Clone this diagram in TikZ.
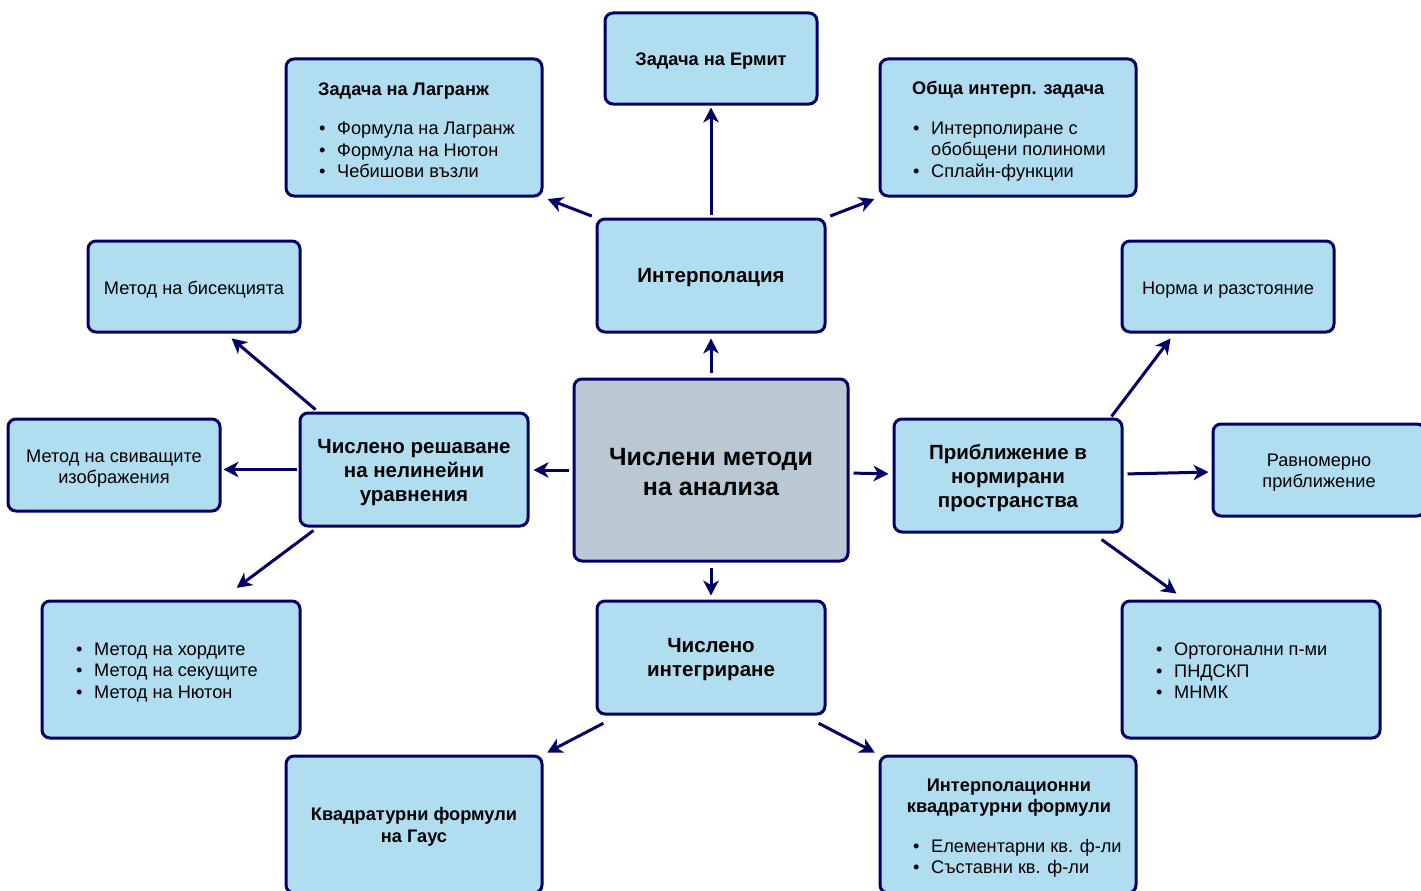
\documentclass[tikz,border=0pt]{standalone}
\usepackage{fontspec}
\setmainfont{Liberation Sans}
\usetikzlibrary{arrows.meta}
\definecolor{navy}{HTML}{000066}
\definecolor{boxfill}{HTML}{B1DDF0}
\definecolor{cenfill}{HTML}{BAC8D3}
\tikzset{
 box/.style={draw=navy, line width=3pt, fill=boxfill, rounded corners=8pt, inner sep=0pt},
 lbl/.style={inner sep=0pt, align=center, text=black},
 reg/.style={font=\fontsize{18.2}{21.5}\selectfont},
 bbold/.style={font=\fontsize{20.5}{24}\selectfont\bfseries},
 sbold/.style={font=\fontsize{18.2}{21.6}\selectfont\bfseries},
 cbold/.style={font=\fontsize{25}{30.5}\selectfont\bfseries},
 conn/.style={draw=navy, line width=3pt, -{Stealth[length=15pt,width=15.5pt,inset=4.5pt]}},
 listtxt/.style={inner sep=0pt, align=left, anchor=west, text=black, font=\fontsize{18.2}{21.5}\selectfont},
}
\newcommand\bul{\hspace*{1pt}\makebox[18pt][l]{\textbullet}}
\begin{document}
\begin{tikzpicture}[x=1pt,y=-1pt]
\clip (0,0) rectangle (1421,891);
\fill[white] (0,0) rectangle (1421,891);
% boxes
\node[box, minimum width=212pt, minimum height=91pt] (erm) at (711,58.5) {};
\node[lbl, sbold] (ermT) at (711,61.5) {Задача на Ермит};
\node[box, minimum width=256pt, minimum height=137pt] (lag) at (414,127.5) {};
\node[listtxt] (lagtxt) at (318,130) {{\bfseries Задача на Лагранж}\\[18pt]\bul Формула на Лагранж\\\bul Формула на Нютон\\\bul Чебишови възли};
\node[box, minimum width=256pt, minimum height=137pt] (obs) at (1008,127.5) {};
\node[listtxt] (obstxt) at (912,131) {{\bfseries Обща интерп. задача}\\[18pt]\bul Интерполиране с\\\hspace*{19pt}обобщени полиноми\\\bul Сплайн-функции};
\node[box, minimum width=228pt, minimum height=113pt] (intp) at (711,275.5) {};
\node[lbl, bbold] (intpT) at (711,278) {Интерполация};
\node[box, minimum width=212pt, minimum height=91pt] (bis) at (194,286.5) {};
\node[lbl, reg] (bisT) at (194,290) {Метод на бисекцията};
\node[box, minimum width=212pt, minimum height=91pt] (norm) at (1228,286.5) {};
\node[lbl, reg] (normT) at (1228,290) {Норма и разстояние};
\node[box, fill=cenfill, minimum width=274pt, minimum height=182pt] (cen) at (711,470) {};
\node[lbl, cbold] (cenT) at (711,472) {Числени методи\\на анализа};
\node[box, minimum width=228pt, minimum height=113pt] (resh) at (414,469.5) {};
\node[lbl, bbold] (reshT) at (414,472.5) {Числено решаване\\на нелинейни\\уравнения};
\node[box, minimum width=212pt, minimum height=92pt] (svi) at (114,465) {};
\node[lbl, reg] (sviT) at (114,468.5) {Метод на свиващите\\изображения};
\node[box, minimum width=228pt, minimum height=113pt] (pri) at (1008,475.5) {};
\node[lbl, bbold] (priT) at (1008,478.5) {Приближение в\\нормирани\\пространства};
\node[box, minimum width=212pt, minimum height=92pt] (rav) at (1319,470) {};
\node[lbl, reg] (ravT) at (1319,472.5) {Равномерно\\приближение};
\node[box, minimum width=228pt, minimum height=113pt] (integ) at (711,657.5) {};
\node[lbl, bbold] (integT) at (711,659.5) {Числено\\интегриране};
\node[box, minimum width=258pt, minimum height=137pt] (hor) at (171,669.5) {};
\node[listtxt] (hortxt) at (75,672.5) {\bul Метод на хордите\\\bul Метод на секущите\\\bul Метод на Нютон};
\node[box, minimum width=258pt, minimum height=137pt] (ort) at (1251,669.5) {};
\node[listtxt] (orttxt) at (1155,671) {\bul Ортогонални п-ми\\\bul ПНДСКП\\\bul МНМК};
\node[box, minimum width=256pt, minimum height=137pt] (gau) at (414,824.5) {};
\node[lbl, sbold] (gauT) at (414,827) {Квадратурни формули\\на Гаус};
\node[box, minimum width=256pt, minimum height=137pt] (ikv) at (1008,824.5) {};
\node[lbl, sbold] (ikvtitle) at (1009,797.5) {Интерполационни\\квадратурни формули};
\node[listtxt] (ikvtxt) at (912,858.5) {\bul Елементарни кв. ф-ли\\\bul Съставни кв. ф-ли};
% connectors
\draw[conn, shorten <=5pt, shorten >=5pt] (cen.north) -- (intp.south);
\draw[conn, shorten <=3pt, shorten >=2pt] (intp.north) -- (erm.south);
\draw[conn, shorten <=4pt, shorten >=4.5pt] (intp.north west) -- (lag.south east);
\draw[conn, shorten <=4pt, shorten >=4.5pt] (intp.north east) -- (obs.south west);
\draw[conn, shorten <=4pt, shorten >=4pt] (cen.west) -- (cen.west -| resh.east);
\draw[conn, shorten <=3pt, shorten >=7.6pt] ([xshift=19.3pt]resh.north west) -- ([xshift=139.3pt]bis.south west);
\draw[conn, shorten <=2pt, shorten >=2pt] (resh.west) -- (resh.west -| svi.east);
\draw[conn, shorten <=5pt, shorten >=19.5pt] ([xshift=19pt]resh.south west) -- ([xshift=180.6pt]hor.north west);
\draw[conn, shorten <=4pt, shorten >=4pt] ([yshift=-3pt]cen.east) -- ([yshift=1.5pt]pri.west);
\draw[conn, shorten <=1.3pt, shorten >=6.3pt] ([xshift=-12.8pt]pri.north east) -- ([xshift=53.8pt]norm.south west);
\draw[conn, shorten <=4pt, shorten >=3pt] ([yshift=1.5pt]pri.east) -- ([yshift=-2pt]rav.west);
\draw[conn, shorten <=10.2pt, shorten >=10.2pt] ([xshift=-30.2pt]pri.south east) -- ([xshift=64.2pt]ort.north west);
\draw[conn, shorten <=5pt, shorten >=4pt] (cen.south) -- (integ.north);
\draw[conn, shorten <=16.8pt, shorten >=4.2pt] ([xshift=22.75pt]integ.south west) -- (gau.north east);
\draw[conn, shorten <=16.8pt, shorten >=4.2pt] ([xshift=-22.75pt]integ.south east) -- (ikv.north west);
\end{tikzpicture}
\end{document}
